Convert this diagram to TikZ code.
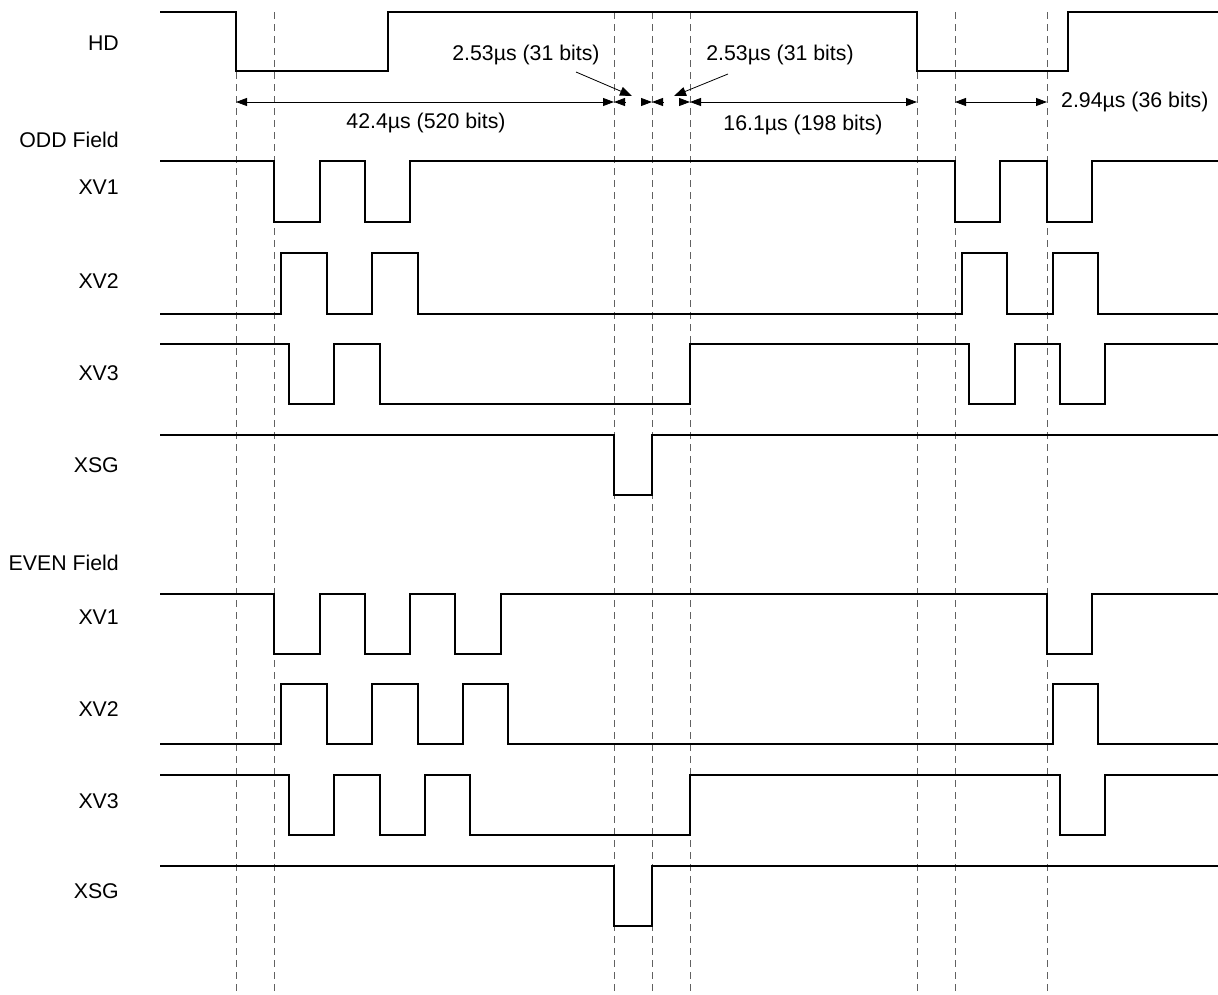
\documentclass[tikz,border=0pt]{standalone}
\usepackage{fontspec}
\setmainfont{Liberation Sans}
\usetikzlibrary{arrows.meta}
\tikzset{
  sig/.style={line width=1.9pt, line join=miter},
  grid/.style={line width=0.8pt, draw=black!62, dash pattern=on 7pt off 5pt},
  dim/.style={line width=0.8pt, {Triangle[length=11pt,width=8pt]}-{Triangle[length=11pt,width=8pt]}},
  tip/.style={line width=0.8pt, -{Triangle[length=11pt,width=8pt]}},
  callout/.style={line width=0.8pt, -{Triangle[length=12pt,width=9pt]}},
  lbl/.style={font=\fontsize{21.3}{25}\selectfont, inner sep=0pt},
  siglabel/.style={lbl, anchor=east},
}
\begin{document}
\begin{tikzpicture}[x=1pt, y=-1pt]
\useasboundingbox (0,0) rectangle (1218,994);
% dashed timing guides
\foreach \gx/\gn in {236/a,274/b,614/c,652/d,690/e,917/f,955/g,1047/h}{
  \coordinate (top\gn) at (\gx,12);
  \coordinate (bot\gn) at (\gx,994);
  \draw[grid] (top\gn) -- (bot\gn);
}
% labels
\node[siglabel] (lhd) at (119,43) {HD};
\node[siglabel] (lodd) at (119,140) {ODD Field};
\node[siglabel] (l1) at (119,187) {XV1};
\node[siglabel] (l2) at (119,281) {XV2};
\node[siglabel] (l3) at (119,373) {XV3};
\node[siglabel] (l4) at (119,465) {XSG};
\node[siglabel] (leven) at (119,563) {EVEN Field};
\node[siglabel] (l5) at (119,617) {XV1};
\node[siglabel] (l6) at (119,709) {XV2};
\node[siglabel] (l7) at (119,801) {XV3};
\node[siglabel] (l8) at (119,891) {XSG};
% HD
\draw[sig] (160,12) -| (236,71) -| (388,12) -| (917,71) -| (1068,12) -- (1218,12);
% ODD field
\draw[sig] (160,161) -| (274,222) -| (320,161) -| (365,222) -| (410,161) -| (955,222) -| (1000,161) -| (1047,222) -| (1092,161) -- (1218,161);
\draw[sig] (160,314) -| (281,253) -| (327,314) -| (372,253) -| (418,314) -| (962,253) -| (1007,314) -| (1053,253) -| (1098,314) -- (1218,314);
\draw[sig] (160,344) -| (289,404) -| (334,344) -| (380,404) -| (690,344) -| (969,404) -| (1015,344) -| (1060,404) -| (1105,344) -- (1218,344);
\draw[sig] (160,435) -| (614,495) -| (652,435) -- (1218,435);
% EVEN field
\draw[sig] (160,594) -| (274,654) -| (320,594) -| (365,654) -| (410,594) -| (455,654) -| (501,594) -| (1047,654) -| (1092,594) -- (1218,594);
\draw[sig] (160,744) -| (281,684) -| (327,744) -| (372,684) -| (418,744) -| (463,684) -| (508,744) -| (1053,684) -| (1098,744) -- (1218,744);
\draw[sig] (160,775) -| (289,835) -| (334,775) -| (380,835) -| (425,775) -| (470,835) -| (690,775) -| (1060,835) -| (1105,775) -- (1218,775);
\draw[sig] (160,866) -| (614,926) -| (652,866) -- (1218,866);
% dimension arrows
\coordinate (m1) at (236,102);
\coordinate (m2) at (614,102);
\coordinate (m3) at (652,102);
\coordinate (m4) at (690,102);
\coordinate (m5) at (917,102);
\coordinate (m6) at (955,102);
\coordinate (m7) at (1047,102);
\coordinate (h1) at (625,102);
\coordinate (h2) at (641,102);
\coordinate (h3) at (663,102);
\coordinate (h4) at (679,102);
\draw[dim] (m1) -- (m2);
\draw[tip] (h1) -- (m2);
\draw[tip] (h2) -- (m3);
\draw[tip] (h3) -- (m3);
\draw[tip] (h4) -- (m4);
\draw[dim] (m4) -- (m5);
\draw[dim] (m6) -- (m7);
% texts
\node[lbl] (t1) at (426,123) {42.4µs (520 bits)};
\node[lbl] (t2) at (526,55) {2.53µs (31 bits)};
\node[lbl] (t3) at (780,55) {2.53µs (31 bits)};
\node[lbl] (t4) at (803,125) {16.1µs (198 bits)};
\node[lbl, anchor=west] (t5) at (1061,102) {2.94µs (36 bits)};
\coordinate (c1s) at (576,72);
\coordinate (c1e) at (632,96);
\coordinate (c2s) at (728,74);
\coordinate (c2e) at (674,96);
\draw[callout] (c1s) -- (c1e);
\draw[callout] (c2s) -- (c2e);
\end{tikzpicture}
\end{document}
